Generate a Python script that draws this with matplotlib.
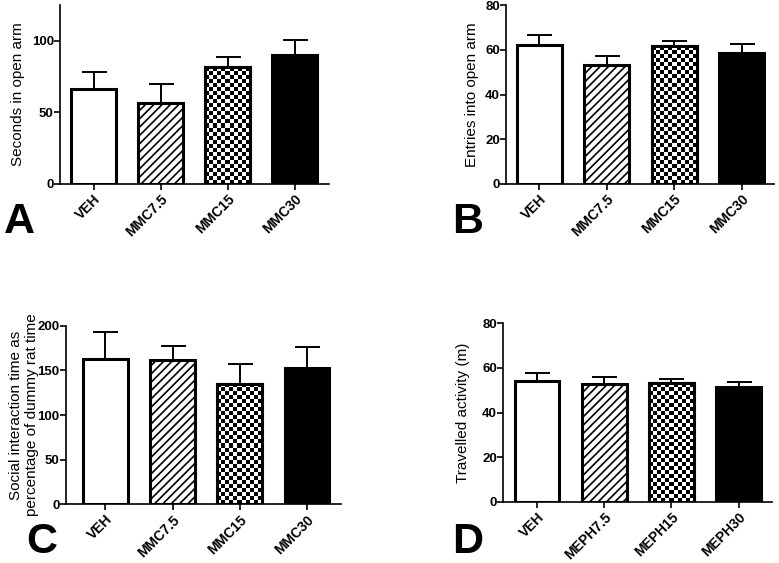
import numpy as np
import matplotlib
matplotlib.use("Agg")
import matplotlib.pyplot as plt

plt.rcParams['font.family'] = ['Liberation Sans', 'DejaVu Sans']
plt.rcParams['hatch.linewidth'] = 1.2
plt.rcParams['hatch.color'] = 'black'

# ---------------- data ----------------
groups_mmc = ["VEH", "MMC7.5", "MMC15", "MMC30"]
groups_meph = ["VEH", "MEPH7.5", "MEPH15", "MEPH30"]

a_mean = [66.6, 56.6, 81.6, 90.0]
a_sem = [11.7, 13.5, 7.4, 10.7]

b_mean = [62.1, 53.1, 61.6, 58.8]
b_sem = [4.5, 4.3, 2.6, 3.7]

c_mean = [162.3, 161.2, 135.0, 152.5]
c_sem = [30.9, 16.3, 22.4, 23.9]

d_mean = [54.1, 52.6, 53.2, 51.4]
d_sem = [3.5, 3.3, 2.0, 2.3]

a_ticks = [0, 50, 100]
b_ticks = [0, 20, 40, 60, 80]
c_ticks = [0, 50, 100, 150, 200]
d_ticks = [0, 20, 40, 60, 80]

W, H = 779, 563
fig = plt.figure(figsize=(W / 100, H / 100), dpi=100)


def px_axes(left, top, right, bottom):
    return fig.add_axes([left / W, 1 - bottom / H, (right - left) / W, (bottom - top) / H])


def panel(ax, labels, means, sems, ticks, ylim, xlim, ylabel, label_x, letter, letter_xy):
    x = np.arange(len(labels))
    ax.set_xlim(*xlim)
    ax.set_ylim(*ylim)
    ax.set_autoscale_on(False)
    width = 0.665
    styles = ['white', 'hatch', 'check', 'black']
    for xi, m, st in zip(x, means, styles):
        fc = 'black' if st == 'black' else 'white'
        hatch = '////' if st == 'hatch' else None
        bar = ax.bar(xi, m, width=width, facecolor=fc, edgecolor='black',
                     linewidth=2.2, hatch=hatch, zorder=3)[0]
        if st == 'check':
            x0, x1 = xi - width / 2, xi + width / 2
            p0 = ax.transData.transform((x0, 0))
            p1 = ax.transData.transform((x1, m))
            nx = max(1, int(round((p1[0] - p0[0]) / 4.0)))
            ny = max(1, int(round((p1[1] - p0[1]) / 4.0)))
            ii, jj = np.indices((ny, nx))
            img = ((ii + jj) % 2).astype(float)
            im = ax.imshow(img, extent=[x0, x1, 0, m], cmap='gray', vmin=0, vmax=1,
                           aspect='auto', interpolation='nearest', zorder=3.5)
            im.set_clip_path(bar)
            ax.bar(xi, m, width=width, facecolor='none', edgecolor='black',
                   linewidth=2.2, zorder=4)
    ax.errorbar(x, means, yerr=[np.zeros(len(means)), sems], fmt='none',
                ecolor='black', elinewidth=1.4, capsize=9, capthick=1.4, zorder=2)
    ax.set_xlim(*xlim)
    ax.set_ylim(*ylim)
    for s in ['top', 'right']:
        ax.spines[s].set_visible(False)
    for s in ['left', 'bottom']:
        ax.spines[s].set_linewidth(1.2)
    ax.set_yticks(ticks)
    ax.set_xticks(x)
    ax.set_xticklabels(labels, rotation=45, ha='right', rotation_mode='anchor',
                       fontsize=10, fontweight='bold')
    ax.tick_params(axis='y', length=4, width=1.2, labelsize=9.5, pad=0.5)
    ax.tick_params(axis='x', length=4, width=1.2, pad=2)
    for t in ax.get_yticklabels():
        t.set_fontweight('bold')
    # y label
    bb = ax.get_position()
    fig.text(label_x / W, bb.y0 + bb.height / 2, ylabel, rotation=90, ha='center',
             va='center', fontsize=11, linespacing=1.1)
    fig.text(letter_xy[0] / W, 1 - letter_xy[1] / H, letter, fontsize=31,
             fontweight='bold', ha='left', va='baseline')


axA = px_axes(60, 5, 329, 184)
panel(axA, groups_mmc, a_mean, a_sem, a_ticks, (0, 125), (-0.5, 3.51),
      "Seconds in open arm", 18, "A", (4, 233))

axB = px_axes(506, 5.3, 774, 184)
panel(axB, groups_mmc, b_mean, b_sem, b_ticks, (0, 80), (-0.49, 3.48),
      "Entries into open arm", 472, "B", (452, 233))

axC = px_axes(65.7, 325.7, 340.7, 504.3)
panel(axC, groups_mmc, c_mean, c_sem, c_ticks, (0, 200), (-0.59, 3.5),
      "Social interaction time as\npercentage of dummy rat time", 24, "C", (26, 553))

axD = px_axes(503.3, 323.3, 771.7, 501.7)
panel(axD, groups_meph, d_mean, d_sem, d_ticks, (0, 80), (-0.5, 3.49),
      "Travelled activity (m)", 463, "D", (452, 553))

fig.savefig("out.png", dpi=100)
